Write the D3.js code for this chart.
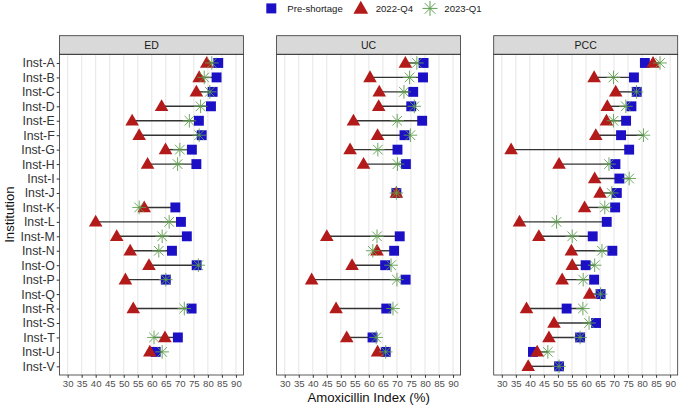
<!DOCTYPE html>
<html><head><meta charset="utf-8">
<script src="https://cdn.jsdelivr.net/npm/d3@7"></script>
<style>body{margin:0;background:#fff}svg{display:block;font-family:"Liberation Sans",Arial,sans-serif}</style>
</head><body><svg id="c" width="680" height="406"></svg>
<script>
const institutions = ["Inst-A","Inst-B","Inst-C","Inst-D","Inst-E","Inst-F","Inst-G","Inst-H","Inst-I","Inst-J","Inst-K","Inst-L","Inst-M","Inst-N","Inst-O","Inst-P","Inst-Q","Inst-R","Inst-S","Inst-T","Inst-U","Inst-V"];
const panels = ["ED","UC","PCC"];
const seriesNames = ["Pre-shortage","2022-Q4","2023-Q1"];
const xTicks = [30,35,40,45,50,55,60,65,70,75,80,85,90];
const N = null;
const edPre = [83.7,83.1,81.7,81.1,76.8,77.8,74.3,75.9,N,N,68.4,70.4,72.5,67.2,76.0,65.0,N,74.2,N,69.3,61.4,N];
const edQ4  = [79.6,76.9,75.9,63.5,53.0,55.5,64.9,58.5,N,N,57.3,40.0,47.5,52.3,59.0,50.6,N,53.4,N,64.7,59.3,N];
const edQ1  = [81.4,78.7,80.7,77.4,73.4,76.9,70.0,69.2,N,N,55.5,66.2,63.7,62.5,76.6,65.0,N,71.6,N,60.8,63.7,N];
const ucPre = [79.5,79.3,75.8,75.1,79.0,72.7,70.2,73.2,N,69.8,N,N,71.0,69.0,65.8,73.1,N,66.2,N,61.3,66.0,N];
const ucQ4  = [73.0,60.4,63.7,63.5,54.5,63.1,53.3,58.1,N,69.8,N,N,45.0,62.9,54.0,39.6,N,48.3,N,52.1,63.1,N];
const ucQ1  = [77.1,74.5,72.5,76.2,70.1,74.8,63.2,70.2,N,69.8,N,N,62.9,61.4,67.9,70.0,N,68.6,N,62.6,66.0,N];
const pccPre = [81.0,77.1,78.1,76.2,74.3,72.5,75.4,70.5,71.9,71.0,70.4,67.4,62.4,69.4,59.9,62.9,65.2,53.1,63.6,57.9,41.1,50.4];
const pccQ4  = [83.9,62.9,70.6,67.6,67.3,63.5,33.3,50.4,63.1,65.0,59.5,36.3,43.2,54.8,55.1,51.5,61.3,38.8,48.6,46.8,42.6,39.4];
const pccQ1  = [86.4,69.8,78.0,74.2,69.8,80.5,N,68.2,75.4,69.2,66.7,49.5,55.1,65.7,63.1,59.0,65.2,58.9,61.1,57.9,46.4,50.4];
const panelData = {ED:[edPre,edQ4,edQ1], UC:[ucPre,ucQ4,ucQ1], PCC:[pccPre,pccQ4,pccQ1]};

const colors = ["#1c10c6","#b31b1b","#5e9f4e"];
const svg = d3.select("#c");
const topY = 54.3, bottomY = 375, stripH = 18.6;
const pw = 184, gap = 33.1, left0 = 59.5;
const y = d3.scalePoint().domain(institutions).range([topY, bottomY]).padding(0.6);
const starPath = (r) => { const a = r*0.7071; return `M${-r},0H${r}M0,${-r}V${r}M${-a},${-a}L${a},${a}M${-a},${a}L${a},${-a}`; };
const sq = d3.symbol().type(d3.symbolSquare).size(98)();
const tri = d3.symbol().type(d3.symbolTriangle).size(80)();

panels.forEach((p, pi) => {
  const x0 = left0 + pi*(pw+gap);
  const x = d3.scaleLinear().domain([27.1, 92.7]).range([x0, x0+pw]);
  const g = svg.append("g");
  g.append("rect").attr("x",x0).attr("y",topY).attr("width",pw).attr("height",bottomY-topY).attr("fill","#fff");
  g.selectAll(".gl").data(xTicks).join("line")
    .attr("x1",d=>x(d)).attr("x2",d=>x(d)).attr("y1",topY).attr("y2",bottomY)
    .attr("stroke","#e6e6e6").attr("stroke-width",1);
  g.append("rect").attr("x",x0).attr("y",topY-stripH).attr("width",pw).attr("height",stripH)
    .attr("fill","#d9d9d9").attr("stroke","#333").attr("stroke-width",0.8);
  g.append("text").attr("x",x0+pw/2).attr("y",topY-stripH/2+3.8).attr("text-anchor","middle")
    .attr("font-size",10.5).attr("fill","#1a1a1a").text(p);
  const [pre,q4,q1] = panelData[p];
  const rows = institutions.map((inst,i)=>({inst, vals:[pre[i],q4[i],q1[i]]}));
  const withData = rows.filter(r=>r.vals.some(v=>v!==null));
  g.selectAll(".seg").data(withData).join("line")
    .attr("x1",r=>x(d3.min(r.vals.filter(v=>v!==null))))
    .attr("x2",r=>x(d3.max(r.vals.filter(v=>v!==null))))
    .attr("y1",r=>y(r.inst)).attr("y2",r=>y(r.inst))
    .attr("stroke","#333").attr("stroke-width",1.4);
  g.selectAll(".sq").data(rows.filter(r=>r.vals[0]!==null)).join("path")
    .attr("d",sq).attr("transform",r=>`translate(${x(r.vals[0])},${y(r.inst)})`).attr("fill",colors[0]);
  g.selectAll(".tri").data(rows.filter(r=>r.vals[1]!==null)).join("path")
    .attr("d",tri).attr("transform",r=>`translate(${x(r.vals[1])},${y(r.inst)+0.8})`).attr("fill",colors[1]);
  g.selectAll(".st").data(rows.filter(r=>r.vals[2]!==null)).join("path")
    .attr("d",starPath(6.8)).attr("transform",r=>`translate(${x(r.vals[2])},${y(r.inst)})`)
    .attr("fill","none").attr("stroke",colors[2]).attr("stroke-width",1).attr("opacity",0.9);
  g.append("rect").attr("x",x0).attr("y",topY).attr("width",pw).attr("height",bottomY-topY)
    .attr("fill","none").attr("stroke","#333").attr("stroke-width",0.8);
  const xa = svg.append("g").attr("transform",`translate(0,${bottomY})`)
    .call(d3.axisBottom(x).tickValues(xTicks).tickSize(2.8).tickPadding(2));
  xa.select(".domain").remove();
  xa.selectAll("line").attr("stroke","#333");
  xa.selectAll("text").attr("font-size",9.6).attr("fill","#4d4d4d").attr("font-family","Liberation Sans, Arial, sans-serif");
  if (pi===0) {
    const ya = svg.append("g").attr("transform",`translate(${x0},0)`)
      .call(d3.axisLeft(y).tickSize(2.8).tickPadding(2));
    ya.select(".domain").remove();
    ya.selectAll("line").attr("stroke","#333");
    ya.selectAll("text").attr("font-size",12.3).attr("fill","#333").attr("font-family","Liberation Sans, Arial, sans-serif");
  }
});

svg.append("text").attr("x",left0+1.5*pw+gap).attr("y",401.5).attr("text-anchor","middle")
  .attr("font-size",13.2).attr("fill","#111").text("Amoxicillin Index (%)");
svg.append("text").attr("transform",`translate(13.5,${(topY+bottomY)/2}) rotate(-90)`).attr("text-anchor","middle")
  .attr("font-size",13.2).attr("fill","#111").text("Institution");

const leg = svg.append("g");
const legItems = [
  {name:seriesNames[0], cx:271.3, tx:287.3},
  {name:seriesNames[1], cx:360.8, tx:375.7},
  {name:seriesNames[2], cx:430.0, tx:444.3}
];
const ly = 8.4;
leg.append("path").attr("d",d3.symbol().type(d3.symbolSquare).size(100)()).attr("transform",`translate(${legItems[0].cx},${ly})`).attr("fill",colors[0]);
leg.append("path").attr("d",d3.symbol().type(d3.symbolTriangle).size(95)()).attr("transform",`translate(${legItems[1].cx},${ly+1})`).attr("fill",colors[1]);
leg.append("path").attr("d",starPath(7.5)).attr("transform",`translate(${legItems[2].cx},${ly})`).attr("fill","none").attr("stroke",colors[2]).attr("stroke-width",1);
leg.selectAll("text").data(legItems).join("text").attr("x",d=>d.tx).attr("y",ly+3.4)
  .attr("font-size",9.6).attr("fill","#1a1a1a").text(d=>d.name);
</script></body></html>
